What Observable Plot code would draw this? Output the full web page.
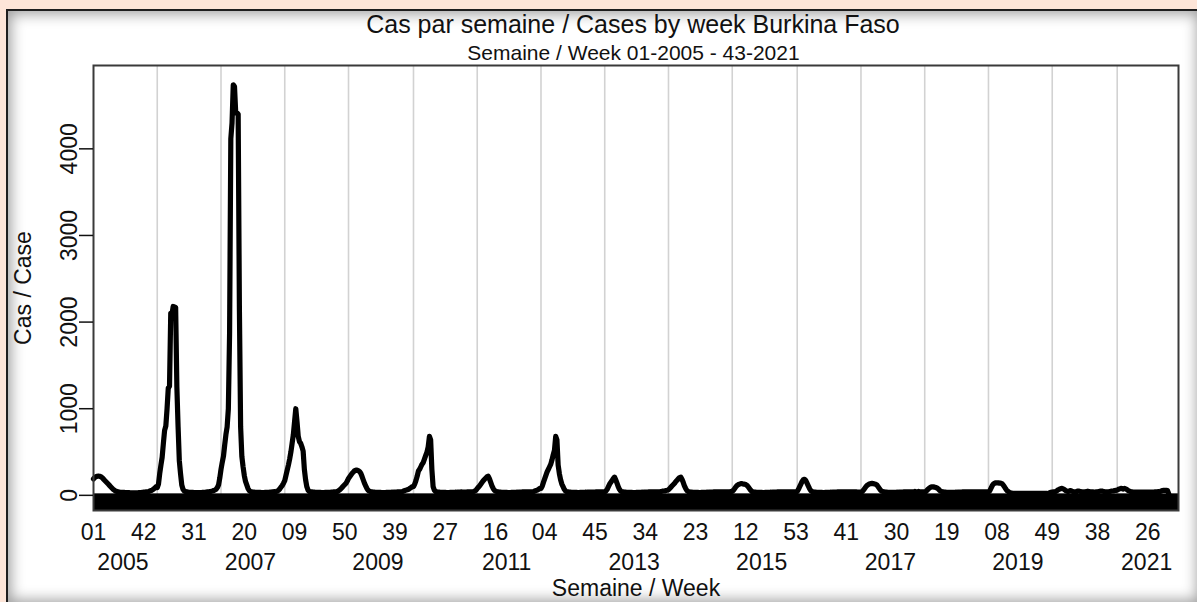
<!DOCTYPE html>
<html>
<head>
<meta charset="utf-8">
<script src="https://cdn.jsdelivr.net/npm/d3@7"></script>
<script src="https://cdn.jsdelivr.net/npm/@observablehq/plot@0.6"></script>
<style>
html,body{margin:0;padding:0;}
body{width:1197px;height:602px;position:relative;overflow:hidden;background:#fde5d8;font-family:"Liberation Sans",Arial,sans-serif;color:#111;}
#panel{position:absolute;left:6px;top:9px;width:1192px;height:592px;background:#fff;border:2px solid #1e1e1e;box-shadow:inset 0 0 14px 3px rgba(0,0,0,0.38);}
#title{position:absolute;left:0;width:1266px;top:12px;text-align:center;font-size:25px;line-height:1;white-space:nowrap;}
#subtitle{position:absolute;left:0;width:1267px;top:42px;text-align:center;font-size:21px;line-height:1;white-space:nowrap;}
#chart{position:absolute;left:0;top:62px;}
</style>
</head>
<body>
<div id="panel"></div>
<div id="title">Cas par semaine / Cases by week Burkina Faso</div>
<div id="subtitle">Semaine / Week 01-2005 - 43-2021</div>
<div id="chart"></div>
<script>
// Weekly cases, one array per year (week 1 .. last week)
const cases2005 = [190,205,215,220,222,220,215,205,190,175,160,145,130,115,100,85,70,60,50,45,
  40,38,36,35,35,34,33,32,32,31,30,30,30,30,30,30,30,31,32,33,
  36,37,38,40,42,45,50,55,62,72,85,100];
const cases2006 = [90,130,250,350,440,600,750,800,1000,1240,1260,2100,2090,2180,2175,2170,1250,790,400,250,
  120,70,50,45,40,38,36,35,35,34,33,33,32,32,32,33,33,34,35,36,
  38,40,42,44,46,50,55,62,70,90,120,200];
const cases2007 = [300,380,450,580,700,790,1000,1870,4115,4300,4740,4720,4416,4416,4400,2160,790,450,330,230,
  160,120,80,55,45,40,38,37,36,35,35,34,34,33,33,33,34,34,35,36,
  37,38,40,42,42,45,50,60,75,95,115,140];
const cases2008 = [170,230,290,350,420,500,600,700,850,1000,850,680,620,600,560,510,300,180,100,60,
  45,42,40,38,37,36,35,35,34,34,33,33,33,34,34,35,35,36,37,38,
  39,40,40,45,55,65,80,95,110,125,140,165];
const cases2009 = [195,215,235,255,270,285,290,290,285,275,255,220,180,140,110,80,60,48,42,40,
  38,37,36,35,35,34,34,33,33,33,33,34,34,35,35,36,36,37,38,38,
  39,40,40,42,45,50,55,60,65,70,80,90,100];
const cases2010 = [100,130,170,220,280,300,330,360,380,420,460,500,560,680,640,300,100,60,45,40,
  38,37,36,35,35,34,34,33,33,33,34,34,35,35,36,36,37,38,38,39,
  38,38,38,38,39,40,40,40,42,45,50,60];
const cases2011 = [80,95,110,130,150,170,185,200,215,220,190,150,110,80,60,48,42,40,38,37,
  36,35,35,34,34,33,33,33,34,34,35,35,36,36,37,38,38,39,39,40,
  40,40,40,40,40,42,45,50,55,60,70,80];
const cases2012 = [80,105,150,190,230,270,300,330,360,410,470,520,680,640,350,250,180,130,100,70,
  50,42,40,38,37,36,35,35,34,34,33,33,34,34,35,35,36,36,37,38,
  38,38,38,38,38,39,39,40,40,40,40,40];
const cases2013 = [40,50,70,100,130,150,170,195,210,180,140,100,70,50,42,40,38,37,36,35,
  35,34,34,33,33,33,34,34,35,35,36,36,37,38,38,38,39,39,40,40,
  40,40,40,40,40,42,45,48,50,52,55,58];
const cases2014 = [65,80,95,110,125,140,160,175,190,205,210,185,150,110,80,55,45,40,38,37,
  36,35,35,34,34,33,33,34,34,35,35,36,36,37,38,38,38,39,39,40,
  40,40,40,40,40,40,40,40,40,40,42,45];
const cases2015 = [45,60,80,100,115,125,130,135,135,130,130,125,115,100,80,60,45,40,38,37,
  36,35,35,34,34,33,33,34,34,35,35,36,36,37,38,38,38,39,39,40,
  40,40,40,40,40,40,40,40,40,40,40,40,42];
const cases2016 = [45,70,100,130,160,180,185,170,140,110,80,55,45,40,38,37,36,35,35,34,
  34,33,33,34,34,35,35,36,36,37,38,38,38,39,39,40,40,40,40,40,
  40,40,40,40,40,40,40,40,40,38,38,38];
const cases2017 = [38,42,60,80,100,115,125,132,136,138,136,132,128,120,100,80,60,48,42,40,
  38,37,36,35,35,34,34,35,35,36,36,37,38,38,38,39,39,40,40,40,
  40,40,40,40,45,40,40,45,40,40,40,40];
const cases2018 = [40,45,60,75,85,95,98,98,95,90,85,75,60,48,42,40,38,37,36,35,
  35,34,34,35,35,36,36,37,38,38,38,39,39,40,40,40,40,40,40,40,
  40,40,40,40,40,40,40,40,40,40,40,40];
const cases2019 = [40,50,80,110,130,140,145,145,145,140,140,135,120,100,75,55,45,35,28,25,
  24,22,22,22,22,22,22,22,22,22,22,22,22,22,22,22,22,22,22,22,
  22,22,22,22,22,22,22,22,22,25,30,35];
const cases2020 = [38,40,42,45,55,65,72,78,80,75,65,55,48,45,50,55,48,42,40,40,
  45,50,48,45,40,38,40,42,45,48,45,42,40,40,38,38,40,42,45,48,
  50,48,45,42,40,40,42,45,48,50,52,55,58];
const cases2021 = [60,70,75,80,78,72,80,75,65,55,48,42,40,38,38,38,38,38,38,38,
  38,38,38,38,38,38,38,38,38,38,38,40,40,42,42,45,50,55,58,58,
  58,55,20];

const years = [2005,2006,2007,2008,2009,2010,2011,2012,2013,2014,2015,2016,2017,2018,2019,2020,2021];
const casesByYear = [cases2005,cases2006,cases2007,cases2008,cases2009,cases2010,cases2011,cases2012,
  cases2013,cases2014,cases2015,cases2016,cases2017,cases2018,cases2019,cases2020,cases2021];

// Axis tick labels
const tickWeeks = ["01","42","31","20","09","50","39","27","16","04","45","34","23","12","53","41","30","19","08","49","38","26"];
const tickWeekYears = [2005,2005,2006,2007,2008,2008,2009,2010,2011,2012,2012,2013,2014,2015,2015,2016,2017,2018,2019,2019,2020,2021];
const yearLabels = [2005,2007,2009,2011,2013,2015,2017,2019,2021];
const yTicks = [0,1000,2000,3000,4000];

// Build table
const rows = [];
let n = 0;
years.forEach((yr, k) => casesByYear[k].forEach((v, j) => rows.push({i: n++, year: yr, week: j + 1, cases: v})));
const indexOf = (yr, wk) => rows.find(r => r.year === yr && r.week === wk).i;

const weekTicks = tickWeeks.map((w, k) => indexOf(tickWeekYears[k], +w));
const weekLabel = new Map(weekTicks.map((p, k) => [p, tickWeeks[k]]));
const yearTicks = yearLabels.map(y => indexOf(y, 25));
const yearLabel = new Map(yearTicks.map((p, k) => [p, String(yearLabels[k])]));
const yearStarts = years.slice(1).map(y => indexOf(y, 1));

const xDomain = [0, 885];
const yDomain = [-175, 4962];

const chart = Plot.plot({
  width: 1197,
  height: 540,
  marginLeft: 93,
  marginRight: 19,
  marginTop: 3,
  marginBottom: 92,
  x: {domain: xDomain},
  y: {domain: yDomain},
  style: {fontFamily: "'Liberation Sans', Arial, sans-serif", fontSize: "23px", color: "#111", background: "transparent", overflow: "visible"},
  marks: [
    Plot.ruleX(yearStarts, {stroke: "#d2d2d2", strokeWidth: 1.6}),
    Plot.rect([0], {x1: xDomain[0], x2: xDomain[1], y1: yDomain[0], y2: 0, fill: "#000", insetTop: -1.5}),
    Plot.lineY(rows, {x: "i", y: "cases", stroke: "#000", strokeWidth: 5.2, strokeLinejoin: "round"}),
    Plot.frame({stroke: "#3a3a3a", strokeWidth: 2}),
    Plot.axisY(yTicks, {tickSize: 14, tickRotate: -90, tickPadding: 3, stroke: "#111", strokeWidth: 1.5,
      tickFormat: d => String(d),
      label: "Cas / Case", labelAnchor: "center", labelArrow: "none", labelOffset: 79}),
    Plot.axisX(weekTicks, {tickSize: 0, tickPadding: 13, tickFormat: d => weekLabel.get(d), label: null}),
    Plot.axisX(yearTicks, {tickSize: 0, tickPadding: 43, tickFormat: d => yearLabel.get(d),
      label: "Semaine / Week", labelAnchor: "center", labelArrow: "none", labelOffset: 85})
  ]
});
document.getElementById("chart").appendChild(chart);
</script>
</body>
</html>
